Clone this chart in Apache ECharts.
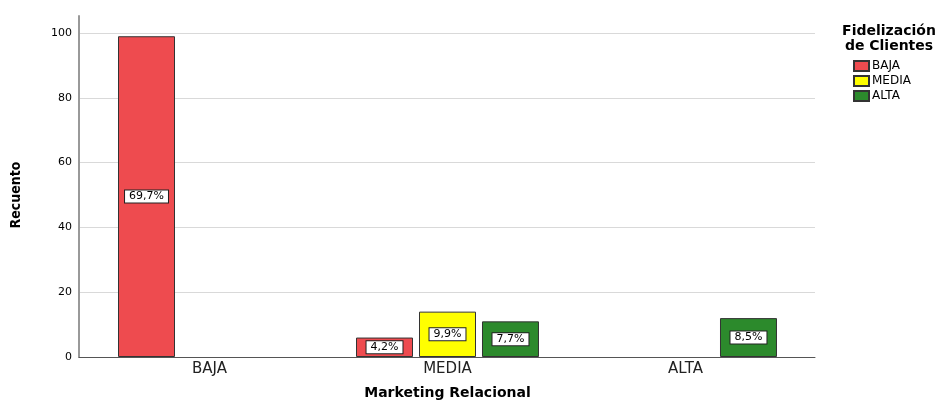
<!DOCTYPE html>
<html>
<head>
<meta charset="utf-8">
<script src="https://cdn.jsdelivr.net/npm/echarts@6/dist/echarts.min.js"></script>
<style>
  html, body { margin: 0; padding: 0; background: #fff; }
  #chart { width: 944px; height: 401px; }
</style>
</head>
<body>
<div id="chart"></div>
<script>
// categorias del eje X (Marketing Relacional)
var categorias = ['BAJA', 'MEDIA', 'ALTA'];
// series (Fidelizacion de Clientes) - recuentos
var serieNombres = ['BAJA', 'MEDIA', 'ALTA'];
var serieBaja = [99, 6, null];
var serieMedia = [null, 14, null];
var serieAlta = [null, 11, 12];
var colores = ['#EE4B4F', '#FFFF00', '#2C8A2C'];

var total = 0;
[serieBaja, serieMedia, serieAlta].forEach(function (s) {
    s.forEach(function (v) { if (v != null) total += v; });
});

var fuente = 'DejaVu Sans, Liberation Sans, sans-serif';

function etiqueta() {
    return {
        show: true,
        position: 'inside',
        color: '#000',
        fontFamily: fuente,
        fontSize: 11,
        backgroundColor: '#fff',
        borderColor: '#222',
        borderWidth: 1,
        padding: [1, 4, 0, 4],
        formatter: function (p) {
            return (p.value / total * 100).toFixed(1).replace('.', ',') + '%';
        }
    };
}

function serie(nombre, datos, color) {
    return {
        name: nombre,
        type: 'bar',
        xAxisIndex: 2,
        yAxisIndex: 2,
        data: datos,
        barWidth: 57,
        barGap: '10.5%',
        itemStyle: { color: color, borderColor: '#333', borderWidth: 1 },
        label: etiqueta()
    };
}

var chart = echarts.init(document.getElementById('chart'));
chart.setOption({
    animation: false,
    title: {
        text: 'Fidelización\nde Clientes',
        left: 884,
        top: 19,
        textAlign: 'center',
        textStyle: {
            fontFamily: fuente,
            fontSize: 14,
            fontWeight: 'bold',
            lineHeight: 15,
            color: '#000'
        }
    },
    legend: {
        orient: 'vertical',
        left: 848,
        top: 55,
        itemWidth: 15,
        itemHeight: 10,
        itemGap: 3,
        icon: 'rect',
        data: serieNombres,
        textStyle: { fontFamily: fuente, fontSize: 12, color: '#000', padding: [0, 0, 0, -2] }
    },
    grid: [
        { left: 79, right: 129, top: 33, bottom: 44, outerBoundsMode: 'none' },
        { left: 79, width: 10, top: 16, bottom: 44, outerBoundsMode: 'none' },
        { left: 90.5, right: 139.5, top: 33, bottom: 44, outerBoundsMode: 'none' }
    ],
    xAxis: [
        {
            gridIndex: 0, type: 'value', min: 0, max: 1,
            axisLine: { show: true, onZero: false, lineStyle: { color: '#555', width: 1 } },
            axisTick: { show: false }, axisLabel: { show: false }, splitLine: { show: false }
        },
        { gridIndex: 1, type: 'value', show: false },
        {
            gridIndex: 2, type: 'category', data: categorias,
            axisLine: { show: false }, axisTick: { show: false },
            axisLabel: { fontFamily: fuente, fontSize: 15, color: '#222', margin: 5 },
            name: 'Marketing Relacional',
            nameLocation: 'middle',
            nameGap: 29,
            nameTextStyle: { fontFamily: fuente, fontSize: 14, fontWeight: 'bold', color: '#000' }
        }
    ],
    yAxis: [
        {
            gridIndex: 0, type: 'value', min: 0, max: 100, interval: 20,
            axisLine: { show: false }, axisTick: { show: false },
            axisLabel: { fontFamily: fuente, fontSize: 11, color: '#000', margin: 7 },
            splitLine: { show: true, lineStyle: { color: '#D9D9D9', width: 1 } },
            name: 'Recuento',
            nameLocation: 'middle',
            nameGap: 56,
            nameTextStyle: {
                fontFamily: 'Liberation Sans Narrow, DejaVu Sans Condensed, sans-serif',
                fontSize: 14, fontWeight: 'bold', color: '#000'
            }
        },
        {
            gridIndex: 1, type: 'value', min: 0, max: 1,
            axisLine: { show: true, lineStyle: { color: '#999', width: 2 } },
            axisTick: { show: false }, axisLabel: { show: false }, splitLine: { show: false }
        },
        { gridIndex: 2, type: 'value', min: 0, max: 100, show: false }
    ],
    series: [
        serie(serieNombres[0], serieBaja, colores[0]),
        serie(serieNombres[1], serieMedia, colores[1]),
        serie(serieNombres[2], serieAlta, colores[2])
    ]
});
</script>
</body>
</html>
